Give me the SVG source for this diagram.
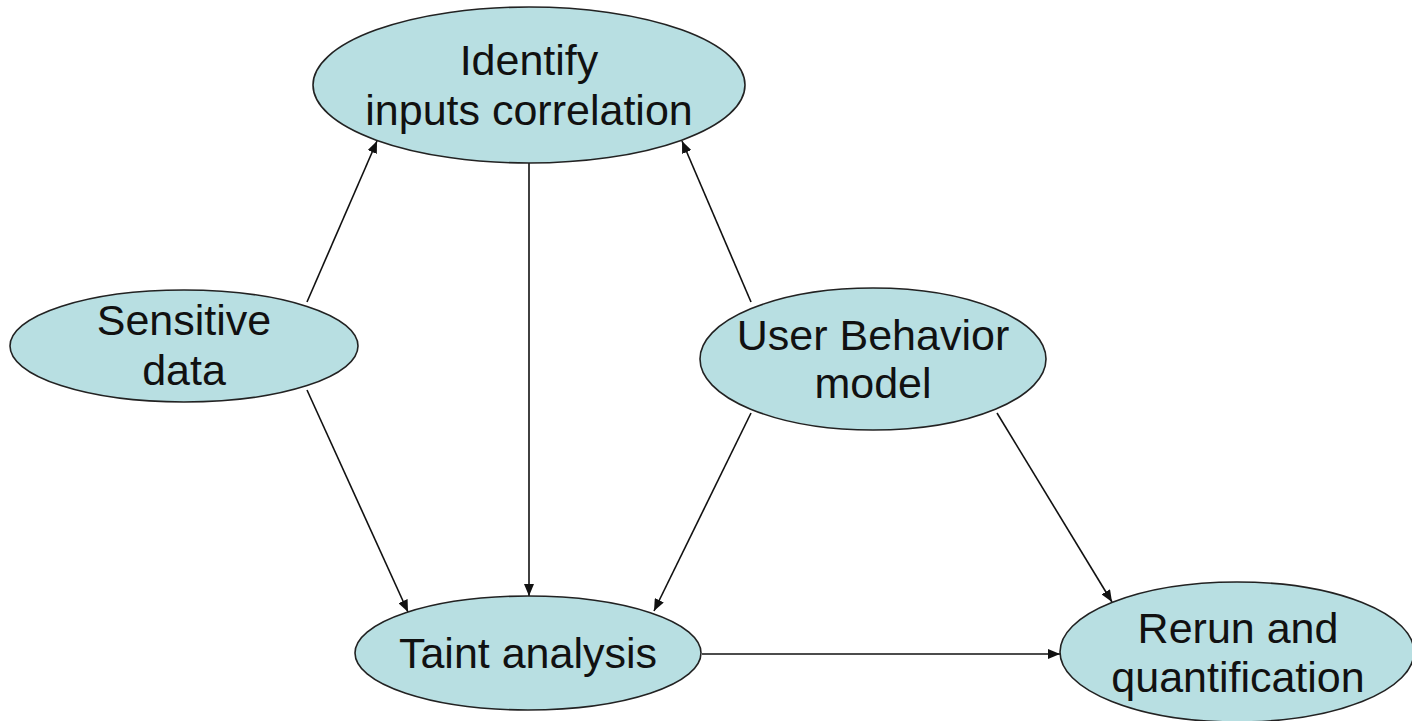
<svg xmlns="http://www.w3.org/2000/svg" width="1412" height="721" viewBox="0 0 1412 721">
<defs>
<style>
.node ellipse{fill:#b8dfe2;stroke:#222;stroke-width:1.6}
.node text{font-family:"Liberation Sans",Arial,sans-serif;font-size:43px;fill:#111;text-anchor:middle}
.edges line{stroke:#111;stroke-width:1.6;marker-end:url(#ah)}
</style>
<marker id="ah" viewBox="0 0 12 10" refX="12" refY="5" markerWidth="12" markerHeight="10" markerUnits="userSpaceOnUse" orient="auto">
<path d="M0,0 L12,5 L0,10 Z" fill="#111"/>
</marker>
</defs>
<rect width="1412" height="721" fill="#fff"/>
<g class="edges" id="connectors">
<line x1="307" y1="302" x2="377" y2="141"/>
<line x1="307" y1="390" x2="408" y2="612"/>
<line x1="529" y1="163" x2="529" y2="596"/>
<line x1="751" y1="302" x2="682" y2="141"/>
<line x1="751" y1="413" x2="654" y2="611"/>
<line x1="997" y1="413" x2="1112" y2="602"/>
<line x1="702" y1="654" x2="1060" y2="654"/>
</g>
<g class="node" id="identify">
<ellipse cx="529" cy="85" rx="216" ry="78"/>
<text x="529" y="75">Identify</text>
<text x="529" y="125">inputs correlation</text>
</g>
<g class="node" id="sensitive">
<ellipse cx="184" cy="346" rx="174" ry="56"/>
<text x="184" y="335">Sensitive</text>
<text x="184" y="385">data</text>
</g>
<g class="node" id="user">
<ellipse cx="873" cy="359" rx="173" ry="71"/>
<text x="873" y="350">User Behavior</text>
<text x="873" y="398">model</text>
</g>
<g class="node" id="taint">
<ellipse cx="528" cy="653" rx="173" ry="57"/>
<text x="528" y="668">Taint analysis</text>
</g>
<g class="node" id="rerun">
<ellipse cx="1237" cy="652" rx="177" ry="70"/>
<text x="1238" y="643">Rerun and</text>
<text x="1238" y="692">quantification</text>
</g>
</svg>
